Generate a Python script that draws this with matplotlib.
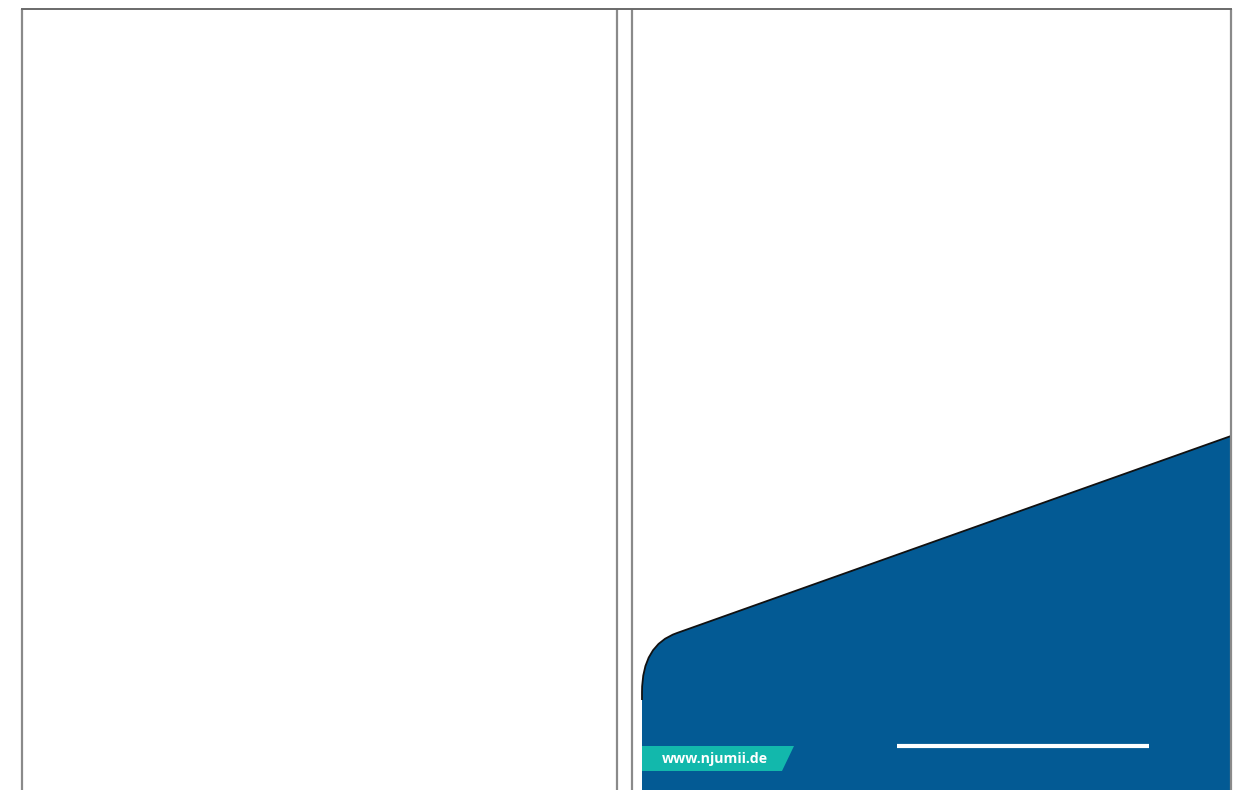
import matplotlib
matplotlib.use("Agg")
import matplotlib.pyplot as plt
from matplotlib.path import Path
from matplotlib.patches import PathPatch, Polygon

# Layout values (pixel space of the 1247x790 reference)
fold_lines_x = [22, 617, 632, 1231]
top_y = 9
blue_corner = [(642, 692), (642, 645), (677, 633)]  # bezier start, control, end
blue_right_top = (1231, 436)
ribbon = [(642, 746), (794, 746), (782, 771), (642, 771)]
url_text = "www.njumii.de"
white_line_x = [897, 1149]
white_line_y = 746

BLUE = "#035A94"
TEAL = "#12B8AC"

fig = plt.figure(figsize=(12.47, 7.9), dpi=100)
ax = fig.add_axes([0, 0, 1, 1])
ax.set_xlim(0, 1247)
ax.set_ylim(790, 0)
ax.axis("off")

# blue shape
(sx, sy), (cx, cy), (ex, ey) = blue_corner
rx, ry = blue_right_top
verts = [(sx, 800), (sx, sy), (cx, cy), (ex, ey), (rx, ry), (rx, 800), (sx, 800)]
codes = [Path.MOVETO, Path.LINETO, Path.CURVE3, Path.CURVE3, Path.LINETO,
         Path.LINETO, Path.CLOSEPOLY]
ax.add_patch(PathPatch(Path(verts, codes), facecolor=BLUE, edgecolor="none", zorder=2))
edge = Path([(sx, sy + 8), (sx, sy), (cx, cy), (ex, ey), (rx, ry)],
            [Path.MOVETO, Path.LINETO, Path.CURVE3, Path.CURVE3, Path.LINETO])
ax.add_patch(PathPatch(edge, facecolor="none", edgecolor="#111111", lw=1.3, zorder=3))

# fold lines
for x in fold_lines_x:
    ax.plot([x, x], [top_y, 800], color="#8a8a8a", lw=1.6, zorder=4, solid_capstyle="butt")
ax.plot([fold_lines_x[0], fold_lines_x[-1]], [top_y, top_y], color="#6a6a6a", lw=1.4, zorder=4)

# ribbon with url
ax.add_patch(Polygon(ribbon, closed=True, facecolor=TEAL, edgecolor="none", zorder=5))
ax.text(662, 758.5, url_text, color="white", fontsize=10.2, fontweight="bold",
        family="Open Sans", ha="left", va="center", zorder=6)

# white line
ax.plot(white_line_x, [white_line_y, white_line_y], color="white", lw=3, zorder=5,
        solid_capstyle="butt")

fig.savefig("out.png", dpi=100)
